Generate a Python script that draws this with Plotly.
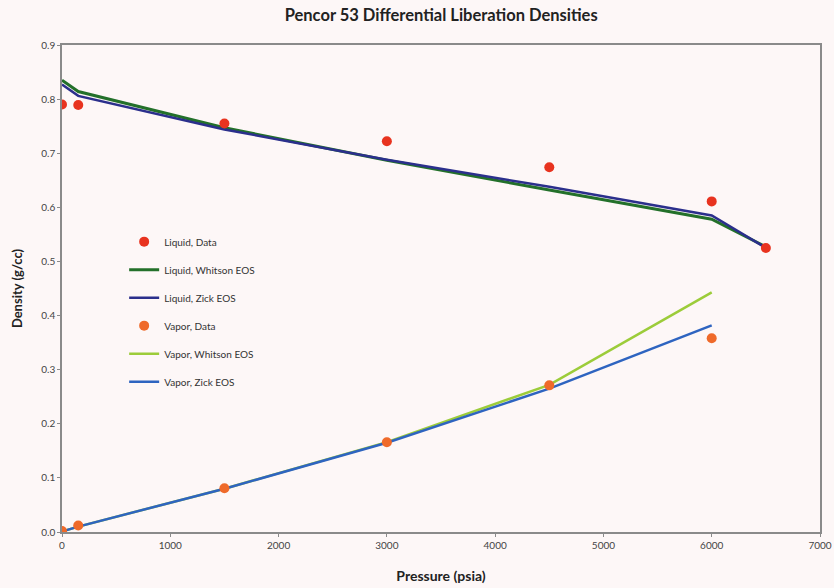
import plotly.graph_objects as go

# Liquid data
liq_p = [0, 150, 1500, 3000, 4500, 6000, 6500]
liq_data = [0.790, 0.789, 0.755, 0.722, 0.674, 0.611, 0.525]

# Liquid EOS curves
liq_eos_p = [0, 150, 1500, 3000, 4500, 6000, 6500]
liq_whitson = [0.835, 0.814, 0.747, 0.687, 0.632, 0.578, 0.527]
liq_zick = [0.827, 0.806, 0.744, 0.688, 0.638, 0.585, 0.525]

# Vapor data
vap_p = [0, 150, 1500, 3000, 4500, 6000]
vap_data = [0.002, 0.012, 0.081, 0.166, 0.271, 0.358]

# Vapor EOS curves
vap_eos_p = [0, 150, 1500, 3000, 4500, 6000]
vap_whitson = [0.001, 0.010, 0.080, 0.166, 0.272, 0.443]
vap_zick = [0.001, 0.010, 0.080, 0.165, 0.265, 0.382]

x_ticks = [0, 1000, 2000, 3000, 4000, 5000, 6000, 7000]
y_ticks = [0.0, 0.1, 0.2, 0.3, 0.4, 0.5, 0.6, 0.7, 0.8, 0.9]

FONT = "Lato, 'Open Sans', sans-serif"

fig = go.Figure()
fig.add_trace(go.Scatter(x=liq_eos_p, y=liq_whitson, mode="lines", name="Liquid, Whitson EOS",
                         line=dict(color="#23702a", width=3), legendgroup="b", legendrank=2))
fig.add_trace(go.Scatter(x=liq_eos_p, y=liq_zick, mode="lines", name="Liquid, Zick EOS",
                         line=dict(color="#2b2f8c", width=2.5), legendgroup="c", legendrank=3))
fig.add_trace(go.Scatter(x=vap_eos_p, y=vap_whitson, mode="lines", name="Vapor, Whitson EOS",
                         line=dict(color="#9ccc3a", width=2.5), legendgroup="e", legendrank=5))
fig.add_trace(go.Scatter(x=vap_eos_p, y=vap_zick, mode="lines", name="Vapor, Zick EOS",
                         line=dict(color="#2e64c0", width=2.5), legendgroup="f", legendrank=6))
fig.add_trace(go.Scatter(x=liq_p, y=liq_data, mode="markers", name="Liquid, Data",
                         marker=dict(color="#e8331f", size=10), legendgroup="a", legendrank=1))
fig.add_trace(go.Scatter(x=vap_p, y=vap_data, mode="markers", name="Vapor, Data",
                         marker=dict(color="#ef6a2a", size=10), legendgroup="d", legendrank=4))

fig.update_layout(
    width=834, height=588,
    paper_bgcolor="#fdf7f7", plot_bgcolor="#fdf7f7",
    margin=dict(l=62, r=14, t=45, b=56),
    font=dict(family=FONT, color="#333333", size=10),
    title=dict(text="<b>Pencor 53 Differential Liberation Densities</b>", x=0.529, xanchor="center",
               y=0.984, yanchor="top", font=dict(size=16.5, color="#222222", family=FONT)),
    showlegend=True,
    legend=dict(x=0.082, y=0.626, xanchor="left", yanchor="top", bgcolor="rgba(0,0,0,0)",
                font=dict(size=10, color="#333333"), traceorder="grouped", tracegroupgap=9,
                itemwidth=30),
    xaxis=dict(range=[0, 7000], tickvals=x_ticks, ticktext=[str(v) for v in x_ticks],
               automargin=False, ticklabeloverflow="allow",
               showgrid=False, zeroline=False, showline=True, linecolor="#8a8a8a", linewidth=1.5,
               mirror=True, ticks="outside", ticklen=3, tickcolor="#8a8a8a",
               tickfont=dict(size=10, color="#444444"),
               title=dict(text="<b>Pressure (psia)</b>", font=dict(size=14, color="#222222"), standoff=21)),
    yaxis=dict(range=[0, 0.9], tickvals=y_ticks, ticktext=[f"{v:.1f}" for v in y_ticks],
               automargin=False, ticklabeloverflow="allow",
               showgrid=False, zeroline=False, showline=True, linecolor="#8a8a8a", linewidth=1.5,
               mirror=True, ticks="outside", ticklen=3, tickcolor="#8a8a8a",
               tickfont=dict(size=10, color="#444444"),
               title=dict(text="<b>Density (g/cc)</b>", font=dict(size=13, color="#222222"), standoff=16)),
)

fig.write_html("out.html", config={"displayModeBar": False},
               post_script="document.body.style.margin='0';document.body.style.overflow='hidden';")
